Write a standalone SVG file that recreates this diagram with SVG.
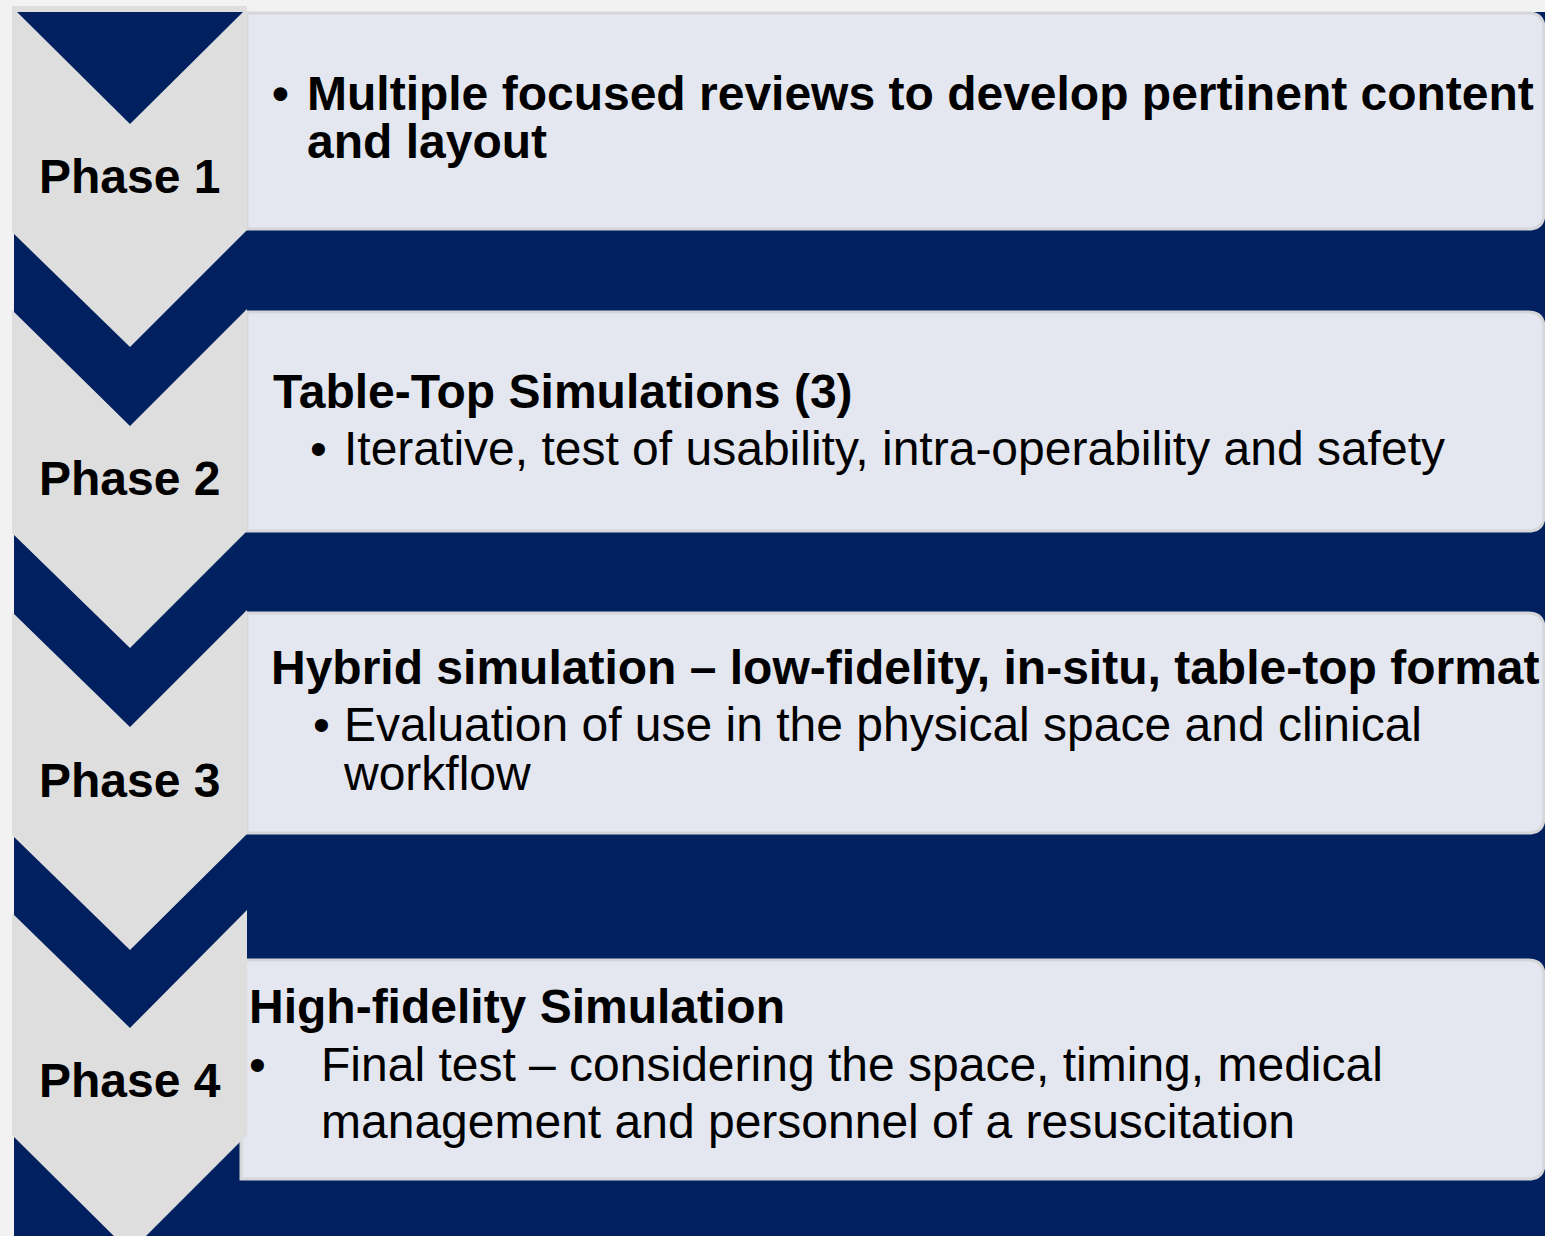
<svg xmlns="http://www.w3.org/2000/svg" width="1545" height="1236" viewBox="0 0 1545 1236">
<style>
.chev{fill:#dedede;}
.box{fill:#e4e7ef;stroke:#d5d6d9;stroke-width:3;}
.ph{font-family:"Liberation Sans",Arial,sans-serif;font-weight:bold;font-size:48px;fill:#000;}
.b{font-family:"Liberation Sans",Arial,sans-serif;font-weight:bold;font-size:48px;fill:#000;}
.r{font-family:"Liberation Sans",Arial,sans-serif;font-size:48px;fill:#000;}
</style>
<rect x="0" y="0" width="1545" height="1236" fill="#f2f2f2"/>
<rect x="14" y="12" width="1531" height="1224" fill="#00205f"/>
<g id="connectors"></g>
<g id="phase1">
  <path class="box" d="M247,13 H1528 Q1544,13 1544,29 V213 Q1544,229 1528,229 H247 Z"/>
  <polygon class="chev" points="12,6 247,6 247,230 130,347 12,232"/>
  <polygon points="17,12 243,12 130,124" fill="#00205f"/>
  <text class="ph" x="39" y="193">Phase 1</text>
  <text class="b" x="272" y="110">•</text>
  <text class="b" x="307" y="110">Multiple focused reviews to develop pertinent content</text>
  <text class="b" x="307" y="158">and layout</text>
</g>
<g id="phase2">
  <path class="box" d="M247,312 H1528 Q1544,312 1544,328 V515 Q1544,531 1528,531 H247 Z"/>
  <polygon class="chev" points="12,310 130,426 247,309 247,531 130,648 12,533"/>
  <text class="ph" x="39" y="495">Phase 2</text>
  <text class="b" x="273" y="408">Table-Top Simulations (3)</text>
  <text class="r" x="310" y="465">•</text>
  <text class="r" x="344" y="465">Iterative, test of usability, intra-operability and safety</text>
</g>
<g id="phase3">
  <path class="box" d="M247,613 H1528 Q1544,613 1544,629 V817 Q1544,833 1528,833 H247 Z"/>
  <polygon class="chev" points="12,612 130,727 247,610 247,834 130,950 12,835"/>
  <text class="ph" x="39" y="797">Phase 3</text>
  <text class="b" x="271" y="684">Hybrid simulation – low-fidelity, in-situ, table-top format</text>
  <text class="r" x="313" y="741">•</text>
  <text class="r" x="344" y="741">Evaluation of use in the physical space and clinical</text>
  <text class="r" x="344" y="790">workflow</text>
</g>
<g id="phase4">
  <path class="box" d="M241,960 H1528 Q1544,960 1544,976 V1163 Q1544,1179 1528,1179 H241 Z"/>
  <polygon class="chev" points="12,913 130,1028 247,910 247,1135 130,1252 12,1135"/>
  <text class="ph" x="39" y="1097">Phase 4</text>
  <text class="b" x="249" y="1023">High-fidelity Simulation</text>
  <text class="r" x="249" y="1081">•</text>
  <text class="r" x="321" y="1081">Final test – considering the space, timing, medical</text>
  <text class="r" x="321" y="1138">management and personnel of a resuscitation</text>
</g>
</svg>
